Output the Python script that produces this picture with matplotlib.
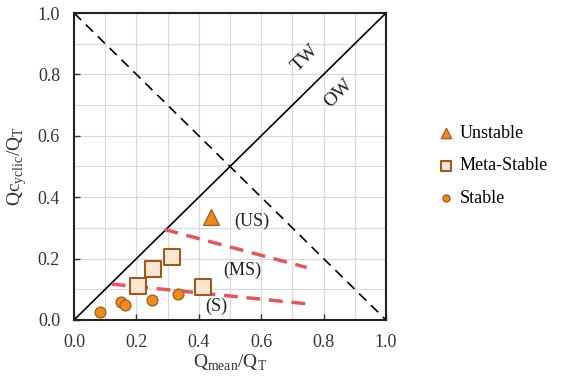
import matplotlib
matplotlib.use("Agg")
import matplotlib.pyplot as plt
import numpy as np

plt.rcParams['font.family'] = ['Liberation Serif', 'DejaVu Serif']
plt.rcParams['mathtext.fontset'] = 'custom'
plt.rcParams['mathtext.rm'] = 'Liberation Serif'

# data
unstable_x = [0.44]
unstable_y = [0.335]
meta_x = [0.206, 0.254, 0.313, 0.412]
meta_y = [0.111, 0.165, 0.206, 0.106]
stable_x = [0.083, 0.151, 0.165, 0.249, 0.332]
stable_y = [0.025, 0.060, 0.048, 0.065, 0.085]
upper_bound_x = [0.29, 0.746]
upper_bound_y = [0.295, 0.171]
lower_bound_x = [0.121, 0.754]
lower_bound_y = [0.117, 0.052]
ticks = [0.0, 0.2, 0.4, 0.6, 0.8, 1.0]

fig = plt.figure(figsize=(5.62, 3.85), dpi=100)
ax = fig.add_axes([74/562, 1-320/385, (386-74)/562, (320-13)/385])

ax.set_xlim(0, 1)
ax.set_ylim(0, 1)
ax.set_xticks(ticks)
ax.set_yticks(ticks)
ax.set_xticks(np.arange(0.1, 1.0, 0.2), minor=True)
ax.set_yticks(np.arange(0.1, 1.0, 0.2), minor=True)
ax.set_xticklabels([f"{t:.1f}" for t in ticks])
ax.set_yticklabels([f"{t:.1f}" for t in ticks])
ax.grid(True, which='both', color='#d9d9d9', linewidth=0.8, zorder=0)
ax.tick_params(which='major', direction='in', length=4, width=1, labelsize=13, colors='#333333', pad=10)
ax.tick_params(which='minor', length=0)
for s in ax.spines.values():
    s.set_linewidth(1.5)
    s.set_color('#222222')

ax.plot([0, 1], [0, 1], color='black', lw=1.2, zorder=2)
ax.plot([0, 1], [1, 0], color='black', lw=1.2, ls=(0, (6, 4)), zorder=2)

red = '#e8545c'
ax.plot(upper_bound_x, upper_bound_y, color=red, lw=2.5, ls=(0, (4, 2.5)), zorder=3)
ax.plot(lower_bound_x, lower_bound_y, color=red, lw=2.5, ls=(0, (4, 2.5)), zorder=3)

orange = '#ed8b1c'
edge = '#a8601e'
ax.scatter(unstable_x, unstable_y, marker='^', s=130, c=orange, edgecolors=edge, linewidths=1, zorder=5, label='Unstable')
ax.scatter(meta_x, meta_y, marker='s', s=120, c='#fde7d2', edgecolors='#9a5a20', linewidths=1.5, zorder=5, label='Meta-Stable')
ax.scatter(stable_x, stable_y, marker='o', s=60, c=orange, edgecolors=edge, linewidths=1, zorder=5, label='Stable')

ax.text(0.57, 0.32, '(US)', fontsize=13, ha='center', va='center', color='#222222')
ax.text(0.54, 0.163, '(MS)', fontsize=13, ha='center', va='center', color='#222222')
ax.text(0.455, 0.046, '(S)', fontsize=13, ha='center', va='center', color='#222222')
ax.text(0.74, 0.853, 'TW', fontsize=14, ha='center', va='center', rotation=45, color='#222222')
ax.text(0.848, 0.738, 'OW', fontsize=14, ha='center', va='center', rotation=45, color='#222222')

ax.set_xlabel(r'Q$_{\mathrm{mean}}$/Q$_{\mathrm{T}}$', fontsize=14, color='#333333', labelpad=1)
ax.set_ylabel(r'Qc$_{\mathrm{yclic}}$/Q$_{\mathrm{T}}$', fontsize=14, color='#333333', labelpad=6)

leg = fig.legend(loc='upper left', bbox_to_anchor=(438/562, 1-125/385), frameon=False,
                 fontsize=13, handletextpad=0.3, labelspacing=0.85, markerscale=0.65,
                 handlelength=0.9, borderaxespad=0, borderpad=0)

fig.savefig('out.png', dpi=100)
